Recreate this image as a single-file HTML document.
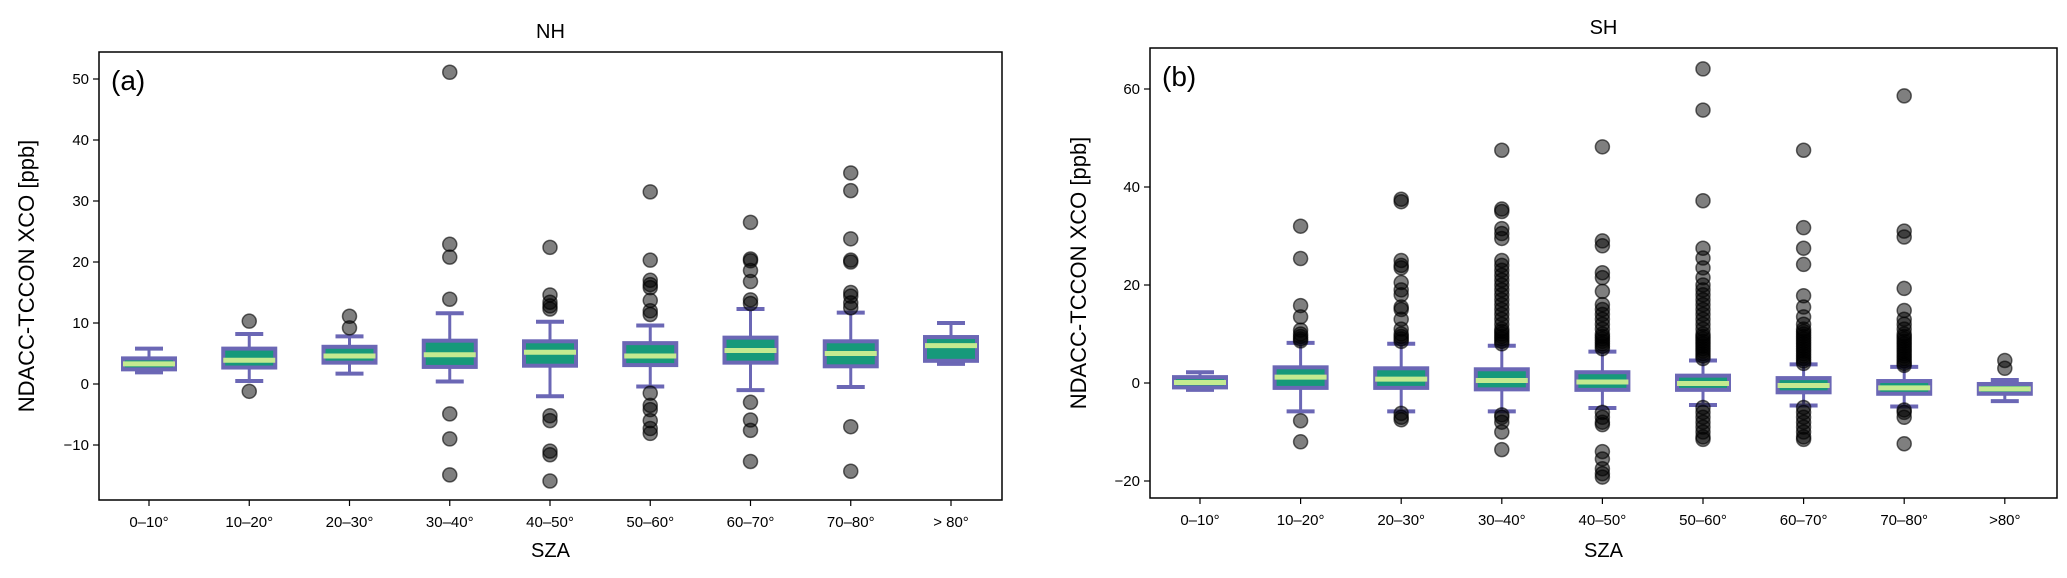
<!DOCTYPE html>
<html><head><meta charset="utf-8"><style>
body{margin:0;background:#fff;}
svg text{font-family:"Liberation Sans",sans-serif;fill:#000;}
</style></head><body>
<svg id="fig" width="2067" height="573" viewBox="0 0 2067 573" xmlns="http://www.w3.org/2000/svg"></svg>
<script>
const categories=["0–10°","10–20°","20–30°","30–40°","40–50°","50–60°","60–70°","70–80°","> 80°"];
const nhQ1=[2.4,2.7,3.5,2.8,3.0,3.1,3.5,2.9,3.8];
const nhMed=[3.3,3.9,4.6,4.8,5.2,4.6,5.5,5.0,6.3];
const nhQ3=[4.2,5.8,6.1,7.1,7.0,6.7,7.6,7.0,7.7];
const nhLo=[1.9,0.5,1.7,0.4,-2.0,-0.4,-1.0,-0.5,3.3];
const nhHi=[5.8,8.2,7.8,11.6,10.2,9.6,12.3,11.7,10.0];
const nhFliers=[[],[10.3,-1.2],[11.1,9.2],[51.1,22.9,20.8,13.9,-4.9,-9,-14.9],
[22.4,14.6,13.4,12.8,12.3,-5.2,-6,-11,-11.6,-15.9],
[31.5,20.3,17,16.3,15.8,13.7,12,11.4,-1.5,-3.5,-4.2,-6,-7.3,-8.1],
[26.5,20.5,20.2,18.6,16.8,13.8,13.2,-3,-5.9,-7.6,-12.7],
[34.6,31.7,23.8,20.3,20,15,14.4,13.3,12.5,-7,-14.3],[]];
const shQ1=[-0.9,-1.0,-1.0,-1.3,-1.4,-1.4,-1.9,-2.2,-2.2];
const shMed=[0.1,1.2,0.8,0.5,0.2,-0.1,-0.5,-1.0,-1.2];
const shQ3=[1.2,3.2,3.0,2.8,2.2,1.5,1.0,0.4,-0.2];
const shLo=[-1.4,-5.8,-5.8,-5.8,-5.1,-4.5,-4.6,-4.8,-3.7];
const shHi=[2.2,8.2,8.0,7.6,6.4,4.6,3.8,3.3,0.6];
const shFliers=[[],
[32,25.4,15.8,13.5,10.8,10,9.5,9,8.6,-7.7,-12],
[37.5,37,25,24,23.5,20.5,19,18,15.5,15,13,11,10,9.5,9,8.5,-6.2,-7,-7.5],
[47.5,35.5,35,31.5,30.5,29.5,25,24,23,22,21,20,19,18,17,16,15,14,13,12,11,10.5,10,9.5,9,8.5,8,-6.5,-7,-8,-10,-13.6],
[48.2,29,28,22.5,21.5,18.7,16,15,14,13,12,11,10,9.5,9,8.5,8,7.5,7,-6,-7,-8,-8.5,-14,-15.5,-17.5,-18.5,-19.2],
[64.1,55.7,37.2,27.5,25.5,23.5,21.5,20,19,18,17,16,15,14,13,12,11,10,9.5,9,8.5,8,7.5,7,6.5,6,5.5,5,-5,-6,-7,-8,-9,-10,-11,-11.5],
[47.5,31.7,27.5,24.2,17.8,15.5,13.5,12,11,10.5,10,9.5,9,8.5,8,7.5,7,6.5,6,5.5,5,4.5,4,-5,-6,-7,-8,-9,-10,-11,-11.5],
[58.6,31,29.8,19.3,14.8,13,12,11,10,9.5,9,8.5,8,7.5,7,6.5,6,5.5,5,4.5,4,3.6,-5.5,-6,-7,-12.4],
[4.6,3]];
const nhTicks=[-10,0,10,20,30,40,50];
const shTicks=[-20,0,20,40,60];

const svg=document.getElementById('fig');
const NS='http://www.w3.org/2000/svg';
function mk(tag,attrs,parent,name){const e=document.createElementNS(NS,tag);for(const k in attrs)e.setAttribute(k,attrs[k]);


(parent||svg).appendChild(e);return e;}

function panel(o){
 const g=mk('g',{},svg,o.id+'-panel');
 const xs=i=>o.x0+i*o.dx;
 const ys=v=>o.y0-v*o.py;
 const t=mk('text',{x:(o.L+o.R)/2,y:o.T-14,'text-anchor':'middle','font-size':20},g,o.id+'-title');t.textContent=o.title;
 o.ticks.forEach(v=>{mk('line',{x1:o.L-6,x2:o.L,y1:ys(v),y2:ys(v),stroke:'#000','stroke-width':1.2},g,'y-tick');
  const tt=mk('text',{x:o.L-10,y:ys(v)+5,'text-anchor':'end','font-size':15},g,'y-tick-label');tt.textContent=v<0?'−'+(-v):v;});
 categories.forEach((c,i)=>{mk('line',{x1:xs(i),x2:xs(i),y1:o.B,y2:o.B+6,stroke:'#000','stroke-width':1.2},g,'x-tick');
  const tt=mk('text',{x:xs(i),y:o.B+27,'text-anchor':'middle','font-size':15},g,'x-tick-label');tt.textContent=o.id==='sh'&&i==8?'>80°':c;});
 const yl=mk('text',{transform:`translate(${o.ylx},${(o.T+o.B)/2}) rotate(-90)`,'text-anchor':'middle','font-size':22},g,'y-axis-title');yl.textContent='NDACC-TCCON XCO [ppb]';
 const xl=mk('text',{x:(o.L+o.R)/2,y:557,'text-anchor':'middle','font-size':20},g,'x-axis-title');xl.textContent='SZA';
 const pl=mk('text',{x:o.L+12,y:o.T+38,'font-size':28},g,'panel-label');pl.textContent=o.lab;
 const hw=26,cw=14;
 categories.forEach((c,i)=>{
  const x=xs(i);const bg=mk('g',{},g,'box-'+i);
  mk('line',{x1:x,x2:x,y1:ys(o.hi[i]),y2:ys(o.q3[i]),stroke:'#6b67b5','stroke-width':3},bg,'whisker-upper');
  mk('line',{x1:x,x2:x,y1:ys(o.lo[i]),y2:ys(o.q1[i]),stroke:'#6b67b5','stroke-width':3},bg,'whisker-lower');
  mk('line',{x1:x-cw,x2:x+cw,y1:ys(o.hi[i]),y2:ys(o.hi[i]),stroke:'#6b67b5','stroke-width':4},bg,'cap-upper');
  mk('line',{x1:x-cw,x2:x+cw,y1:ys(o.lo[i]),y2:ys(o.lo[i]),stroke:'#6b67b5','stroke-width':4},bg,'cap-lower');
  mk('rect',{x:x-hw,y:ys(o.q3[i]),width:2*hw,height:ys(o.q1[i])-ys(o.q3[i]),fill:'#16997a',stroke:'#6b67b5','stroke-width':4},bg,'box-body');
  mk('line',{x1:x-hw,x2:x+hw,y1:ys(o.med[i]),y2:ys(o.med[i]),stroke:'#c4ea90','stroke-width':5},bg,'median-line');
  o.fl[i].forEach(v=>mk('ellipse',{cx:x,cy:ys(v),rx:7,ry:7,fill:'rgba(0,0,0,0.5)',stroke:'rgba(0,0,0,0.6)','stroke-width':1.5},bg,'flier'));
 });
 mk('rect',{x:o.L,y:o.T,width:o.R-o.L,height:o.B-o.T,fill:'none',stroke:'#000','stroke-width':1.5},g,'plot-frame');
}
panel({id:'nh',title:'NH',lab:'(a)',L:99,R:1002,T:52,B:500,x0:149,dx:100.25,y0:384,py:6.1,ticks:nhTicks,ylx:34,
 q1:nhQ1,med:nhMed,q3:nhQ3,lo:nhLo,hi:nhHi,fl:nhFliers});
panel({id:'sh',title:'SH',lab:'(b)',L:1150,R:2057,T:48,B:498,x0:1200,dx:100.6,y0:383,py:4.9,ticks:shTicks,ylx:1086,
 q1:shQ1,med:shMed,q3:shQ3,lo:shLo,hi:shHi,fl:shFliers});
</script>
</body></html>
